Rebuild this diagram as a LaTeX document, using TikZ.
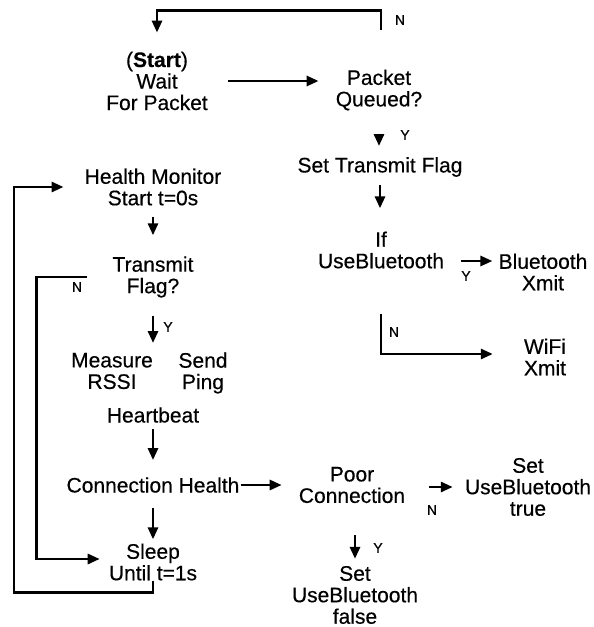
\documentclass[tikz,border=0pt]{standalone}
\usepackage{fontspec}
\setmainfont[FakeBold=0.4]{Liberation Sans}
\usetikzlibrary{arrows.meta}
\begin{document}
\begin{tikzpicture}[x=1pt,y=-1pt,
  txt/.style={align=center, inner sep=0pt, font=\fontsize{21}{21.5}\selectfont},
  lab/.style={inner sep=0pt, font=\fontsize{14}{14}\selectfont},
  line/.style={line width=2.8pt, line join=miter},
  arr/.style={line, -{Triangle[length=12pt,width=10pt]}}]
\useasboundingbox (0,0) rectangle (594,627);

% nodes
\node[txt] (start) at (157,81) {(\textbf{Start})\\Wait\\For Packet};
\node[txt] (pq) at (379,90) {Packet\\Queued?};
\node[txt] (stf) at (380,167) {Set Transmit Flag};
\node[txt] (ifbt) at (381,250) {If\\UseBluetooth};
\node[txt] (btx) at (543,272) {Bluetooth\\Xmit};
\node[txt] (wfx) at (545,357) {WiFi\\Xmit};
\node[txt] (hm) at (153,187) {Health Monitor\\Start t=0s};
\node[txt] (tfq) at (153,277) {Transmit\\Flag?};
\node[txt] (meas) at (112,371) {Measure\\RSSI};
\node[txt] (send) at (203,373) {Send\\Ping};
\node[txt] (hb) at (153,415) {Heartbeat};
\node[txt] (ch) at (153,485) {Connection Health};
\node[txt] (sleep) at (153,562) {Sleep\\Until t=1s};
\node[txt] (poor) at (352,485) {Poor\\Connection};
\node[txt] (sbt) at (528,487) {Set\\UseBluetooth\\true};
\node[txt] (sbf) at (355,595) {Set\\UseBluetooth\\false};
\coordinate (ysplit) at (153,343);

% labels
\node[lab] (n1) at (400,20) {N};
\node[lab] (y1) at (405,135) {Y};
\node[lab] (y2) at (466,276) {Y};
\node[lab] (n2) at (394,332) {N};
\node[lab] (n3) at (77,287) {N};
\node[lab] (y3) at (168,327) {Y};
\node[lab] (n4) at (432,510) {N};
\node[lab] (y4) at (378,548) {Y};

% connectors
\draw[arr, shorten <=39pt, shorten >=19pt] ([xshift=2pt]pq.north) -- ++(0,-59) -| (start.north);
\draw[arr, shorten <=20pt, shorten >=17pt] (start.east) -- (start.east -| pq.west);
\draw[arr, shorten <=23pt, shorten >=11pt] (pq.south) -- (pq.south |- stf.north);
\draw[arr, shorten <=8pt, shorten >=23pt] (stf.south) -- (stf.south |- ifbt.north);
\draw[arr, shorten <=17pt, shorten >=6pt] ([yshift=-11pt]ifbt.east) -- ([yshift=-11pt]ifbt.east -| btx.west);
\draw[arr, shorten <=45pt, shorten >=31pt] (ifbt.south) |- ([yshift=3pt]wfx.west);
\draw[arr, shorten <=11pt, shorten >=21pt] (hm.south) -- (tfq.north);
\draw[arr, shorten <=18pt] (tfq.south) -- (ysplit);
\draw[arr, shorten <=6pt, shorten >=17pt] (hb.south) -- (ch.north);
\draw[arr, shorten <=15pt, shorten >=4pt] (ch.south) -- (sleep.north);
\draw[arr, shorten <=1pt, shorten >=17pt] (ch.east) -- (ch.east -| poor.west);
\draw[arr, shorten <=24pt, shorten >=12pt] ([yshift=-2pt]poor.east) -- ([yshift=-2pt]poor.east -| sbt.west);
\draw[arr, shorten <=32pt, shorten >=7pt] ([xshift=3pt]poor.south) -- (sbf.north);
\draw[arr, shorten <=25pt, shorten >=9pt] (tfq.west) -- ++(-76,0) |- ([yshift=3pt]sleep.west);
\draw[arr, shorten >=21pt] (sleep.south) -- ++(0,12) -- ++(-139,0) |- (hm.west);
\end{tikzpicture}
\end{document}
